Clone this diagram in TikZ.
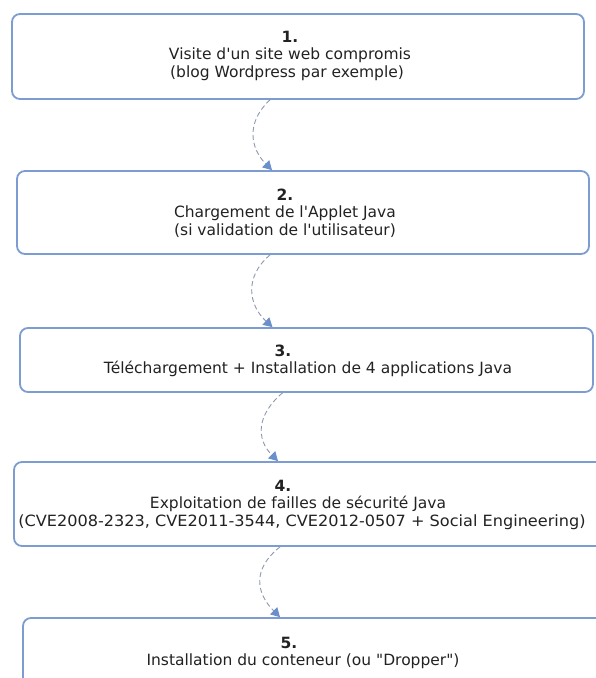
\documentclass[tikz,border=0pt]{standalone}
\usepackage{fontspec}
\setmainfont{DejaVu Sans}
\usetikzlibrary{arrows.meta}
\definecolor{boxblue}{HTML}{7D9CD2}
\definecolor{dashgray}{HTML}{8E9AAE}
\definecolor{tipblue}{HTML}{6A8FCB}
\definecolor{txt}{HTML}{222222}
\tikzset{
  stepbox/.style={draw=boxblue, line width=1.8pt, rounded corners=8pt, fill=white, inner sep=0pt},
  numtxt/.style={font=\fontsize{15.5}{18}\selectfont\bfseries, text=txt, inner sep=0pt},
  bodytxt/.style={font=\fontsize{15.5}{18}\selectfont, text=txt, inner sep=0pt},
  flow/.style={draw=dashgray, line width=0.9pt, dash pattern=on 5pt off 3pt,
    -{Triangle[width=10pt,length=9pt,color=tipblue,sep=0pt]}},
}
\begin{document}
\begin{tikzpicture}[x=1pt,y=-1pt]
\useasboundingbox (0,0) rectangle (596,678);
\clip (0,0) rectangle (596,678);
\fill[white] (0,0) rectangle (596,678);
% boxes
\node[stepbox, minimum width=572pt, minimum height=85pt] (b1) at (298,56.5) {};
\node[stepbox, minimum width=572pt, minimum height=83pt] (b2) at (303,212.5) {};
\node[stepbox, minimum width=573pt, minimum height=64pt] (b3) at (306.5,360) {};
\node[stepbox, minimum width=600pt, minimum height=84pt] (b4) at (314,504) {};
\node[stepbox, minimum width=600pt, minimum height=84pt] (b5) at (323,660) {};
% texts
\node[numtxt] (n1) at (290,37) {1.};
\node[bodytxt] (t1a) at (290,55) {Visite d\textquotesingle un site web compromis};
\node[bodytxt] (t1b) at (287,73) {(blog Wordpress par exemple)};
\node[numtxt] (n2) at (285,195) {2.};
\node[bodytxt] (t2a) at (285,213) {Chargement de l\textquotesingle Applet Java};
\node[bodytxt] (t2b) at (285,231) {(si validation de l\textquotesingle utilisateur)};
\node[numtxt] (n3) at (283,351) {3.};
\node[bodytxt] (t3a) at (308,369) {Téléchargement + Installation de 4 applications Java};
\node[numtxt] (n4) at (283,486) {4.};
\node[bodytxt] (t4a) at (298,504) {Exploitation de failles de sécurité Java};
\node[bodytxt, xscale=1.04] (t4b) at (302,522) {(CVE2008-2323, CVE2011-3544, CVE2012-0507 + Social Engineering)};
\node[numtxt] (n5) at (289,643) {5.};
\node[bodytxt] (t5a) at (303,661) {Installation du conteneur (ou \textquotedbl Dropper\textquotedbl)};
% connectors
\draw[flow] ([xshift=-28pt]b1.south) .. controls +(-24,22) and +(-22,-22) .. ([xshift=-31pt]b2.north);
\draw[flow] ([xshift=-33pt]b2.south) .. controls +(-26,22) and +(-24,-22) .. ([xshift=-34pt]b3.north);
\draw[flow] ([xshift=-24pt]b3.south) .. controls +(-26,22) and +(-22,-22) .. ([xshift=-36pt]b4.north);
\draw[flow] ([xshift=-34pt]b4.south) .. controls +(-28,22) and +(-24,-24) .. ([xshift=-43pt]b5.north);
\end{tikzpicture}
\end{document}
